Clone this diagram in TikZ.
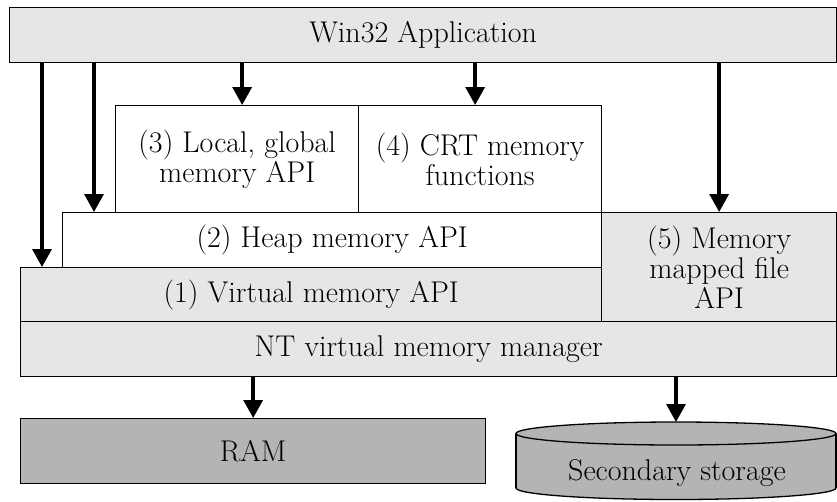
\documentclass[tikz,border=0pt]{standalone}
\usetikzlibrary{arrows.meta}
\definecolor{lightgr}{HTML}{E6E6E6}
\definecolor{darkgr}{HTML}{B4B4B4}
\begin{document}
\begin{tikzpicture}[x=1pt,y=-1pt,
                        layer/.style={draw=black,line width=1.3pt,inner sep=0pt,anchor=north west,align=center,font=\fontsize{30}{30}\selectfont},
                        arr/.style={line width=3.4pt,-{Triangle[length=18pt,width=19pt]}}]
                        \useasboundingbox (0,0) rectangle (837,501);

                        \node[layer,fill=lightgr,minimum width=827pt,minimum height=55pt] (app) at (9,7) {Win32 Application};
                        \node[layer,fill=white,minimum width=243pt,minimum height=107pt] (locglob) at (115,105) {(3) Local, global\\memory API};
                        \node[layer,fill=white,minimum width=243pt,minimum height=107pt] (crt) at (358,105) {(4) CRT memory\\functions};
                        \node[layer,fill=white,minimum width=539pt,minimum height=55pt] (heap) at (62,212) {(2) Heap memory API};
                        \node[layer,fill=lightgr,minimum width=581pt,minimum height=54pt] (virt) at (20,267) {(1) Virtual memory API};
                        \node[layer,fill=lightgr,minimum width=235pt,minimum height=109pt] (mapf) at (601,212) {(5) Memory\\mapped file\\API};
                        \node[layer,fill=lightgr,minimum width=816pt,minimum height=55pt] (ntvmm) at (20,321) {NT virtual memory manager};
                        \node[layer,fill=darkgr,minimum width=465pt,minimum height=65pt] (ram) at (20,418) {RAM};

                        \filldraw[fill=darkgr,draw=black,line width=1.3pt] (676,488) ellipse [x radius=160, y radius=11.5];
                        \fill[darkgr] (516,433.5) rectangle (836,488);
                        \draw[line width=1.3pt] (516,433.5) -- (516,488) (836,433.5) -- (836,488);
                        \filldraw[fill=darkgr,draw=black,line width=1.3pt] (676,433.5) ellipse [x radius=160, y radius=11.5];
                        \coordinate (disktop) at (676,422);
                        \node[font=\fontsize{30}{30}\selectfont] (disk) at (677,473) {Secondary storage};

                        \draw[arr] ([xshift=22pt]virt.north west |- app.south) -- ([xshift=22pt]virt.north west);
                        \draw[arr] ([xshift=32pt]heap.north west |- app.south) -- ([xshift=32pt]heap.north west);
                        \draw[arr] ([xshift=5pt]locglob.north |- app.south) -- ([xshift=5pt]locglob.north);
                        \draw[arr] ([xshift=-5pt]crt.north |- app.south) -- ([xshift=-5pt]crt.north);
                        \draw[arr] (mapf.north |- app.south) -- (mapf.north);
                        \draw[arr] (ntvmm.south -| ram.north) -- (ram.north);
                        \draw[arr] (ntvmm.south -| disktop) -- (disktop);
                    \end{tikzpicture}
\end{document}
